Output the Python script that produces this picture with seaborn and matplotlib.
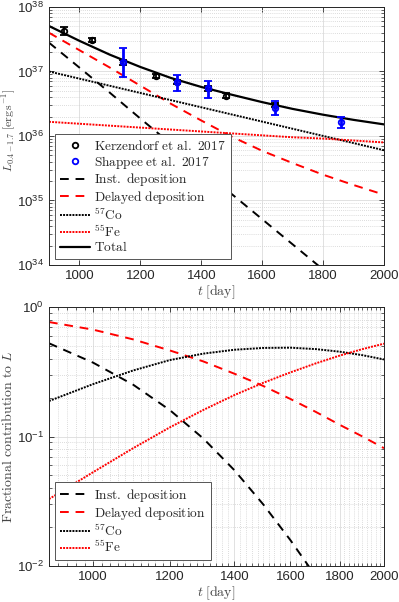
import numpy as np
import pandas as pd
import seaborn as sns
import matplotlib
matplotlib.use("Agg")
import matplotlib.pyplot as plt
from matplotlib.lines import Line2D
from matplotlib.ticker import FixedLocator, NullFormatter, LogLocator, FixedFormatter

# ---------------- data ----------------
days = [900, 1000, 1100, 1200, 1300, 1400, 1500, 1600, 1700, 1800, 1900, 2000]

# top panel: log10 luminance [erg/s]
logL_inst = [37.447, 37.06, 36.67, 36.27, 35.88, 35.49, 35.10, 34.71, 34.32, 33.93, 33.54, 33.15]
logL_delayed = [37.60, 37.33, 37.06, 36.78, 36.50, 36.24, 35.99, 35.77, 35.58, 35.40, 35.24, 35.09]
logL_co57 = [37.00, 36.889, 36.778, 36.667, 36.556, 36.445, 36.334, 36.223, 36.112, 36.001, 35.89, 35.779]
logL_fe55 = [36.22, 36.19, 36.16, 36.13, 36.10, 36.07, 36.04, 36.01, 35.98, 35.96, 35.93, 35.90]
logL_total = [37.705, 37.475, 37.26, 37.07, 36.90, 36.76, 36.64, 36.525, 36.42, 36.33, 36.25, 36.18]

# observations
kerz_t = [948, 1040, 1143, 1250, 1321, 1423, 1481, 1642]
kerz_logL = [37.628, 37.488, 37.14, 36.93, 36.84, 36.74, 36.625, 36.48]
kerz_err = [0.06, 0.035, 0.035, 0.035, 0.035, 0.035, 0.035, 0.035]

shap_t = [1143, 1321, 1423, 1642, 1859]
shap_logL = [37.14, 36.83, 36.74, 36.44, 36.21]
shap_logL_hi = [37.37, 36.946, 36.86, 36.547, 36.29]
shap_logL_lo = [36.92, 36.70, 36.594, 36.326, 36.12]

# bottom panel: log10 fractional contribution
logF_inst = [-0.28, -0.43, -0.60, -0.795, -1.015, -1.26, -1.525, -1.80, -2.08, -2.36, -2.64, -2.92]
logF_delayed = [-0.116, -0.175, -0.25, -0.335, -0.42, -0.515, -0.61, -0.71, -0.81, -0.91, -1.00, -1.09]
logF_co57 = [-0.726, -0.595, -0.49, -0.41, -0.36, -0.33, -0.316, -0.314, -0.325, -0.345, -0.372, -0.405]
logF_fe55 = [-1.483, -1.275, -1.09, -0.93, -0.795, -0.68, -0.585, -0.505, -0.435, -0.375, -0.325, -0.283]

xticks = [1000, 1200, 1400, 1600, 1800, 2000]

# ---------------- style ----------------
sns.set_theme(style="ticks")
plt.rcParams["font.family"] = ["Liberation Sans", "DejaVu Sans"]
plt.rcParams["mathtext.fontset"] = "cm"
plt.rcParams["axes.edgecolor"] = "#262626"
plt.rcParams["xtick.color"] = "#262626"
plt.rcParams["ytick.color"] = "#262626"

fig = plt.figure(figsize=(3.99, 6.02), dpi=100)
ax1 = fig.add_axes([0.1228, 0.5598, 0.8396, 0.4286])
ax2 = fig.add_axes([0.1228, 0.0598, 0.8396, 0.4302])

LW = 1.4
styles = {
    "inst": dict(color="black", linestyle=(0, (4.5, 3.5))),
    "delayed": dict(color="red", linestyle=(0, (4.5, 3.5))),
    "co": dict(color="black", linestyle=(0, (1, 0.6))),
    "fe": dict(color="red", linestyle=(0, (1, 0.6))),
    "total": dict(color="black", linestyle="-"),
}

top = pd.DataFrame({
    "t": days,
    "inst": 10.0 ** np.array(logL_inst),
    "delayed": 10.0 ** np.array(logL_delayed),
    "co": 10.0 ** np.array(logL_co57),
    "fe": 10.0 ** np.array(logL_fe55),
    "total": 10.0 ** np.array(logL_total),
})
bot = pd.DataFrame({
    "t": days,
    "inst": 10.0 ** np.array(logF_inst),
    "delayed": 10.0 ** np.array(logF_delayed),
    "co": 10.0 ** np.array(logF_co57),
    "fe": 10.0 ** np.array(logF_fe55),
})

# ---------------- top panel ----------------
for key in ["inst", "delayed", "co", "fe", "total"]:
    sns.lineplot(data=top, x="t", y=key, ax=ax1, lw=LW if key != "total" else 1.6,
                 **styles[key])

kL = 10.0 ** np.array(kerz_logL)
kerr_lo = kL - 10.0 ** (np.array(kerz_logL) - np.array(kerz_err))
kerr_hi = 10.0 ** (np.array(kerz_logL) + np.array(kerz_err)) - kL
ax1.errorbar(kerz_t, kL, yerr=[kerr_lo, kerr_hi], fmt="o", mfc="none", mec="black",
             ecolor="black", ms=4, mew=1.3, elinewidth=1.3, capsize=3, capthick=1.5, zorder=5)
sL = 10.0 ** np.array(shap_logL)
ax1.errorbar(shap_t, sL, yerr=[sL - 10.0 ** np.array(shap_logL_lo), 10.0 ** np.array(shap_logL_hi) - sL],
             fmt="o", mfc="none", mec="blue", ecolor="blue", ms=4, mew=1.3,
             elinewidth=2.0, capsize=3, capthick=1.8, zorder=6)

ax1.set_yscale("log")
ax1.set_xlim(900, 2000)
ax1.set_ylim(1e34, 1e38)
ax1.set_xticks(xticks)
ax1.xaxis.set_minor_locator(FixedLocator([]))
ax1.yaxis.set_major_locator(LogLocator(base=10, numticks=10))
ax1.yaxis.set_minor_locator(LogLocator(base=10, subs=np.arange(2, 10), numticks=20))
ax1.yaxis.set_minor_formatter(NullFormatter())
ax1.grid(True, which="major", color="#dcdcdc", lw=0.6, ls="-")
ax1.grid(True, which="minor", axis="y", color="#d0d0d0", lw=0.6, ls=(0, (1, 1.5)))
ax1.set_xlabel(r"$t\;[\mathrm{day}]$", fontsize=10, color="#444444", labelpad=1)
ax1.set_ylabel(r"$L_{0.4-1.7}\;[\mathrm{erg\,s^{-1}}]$", fontsize=8.5, color="#444444")
ax1.yaxis.set_label_coords(-0.092, 0.52)

handles1 = [
    Line2D([], [], marker="o", ls="none", mfc="none", mec="black", mew=1.3, ms=4),
    Line2D([], [], marker="o", ls="none", mfc="none", mec="blue", mew=1.3, ms=4),
    Line2D([], [], lw=LW, **styles["inst"]),
    Line2D([], [], lw=LW, **styles["delayed"]),
    Line2D([], [], lw=LW, **styles["co"]),
    Line2D([], [], lw=LW, **styles["fe"]),
    Line2D([], [], lw=1.6, **styles["total"]),
]
labels1 = [r"$\mathrm{Kerzendorf\ et\ al.\ 2017}$", r"$\mathrm{Shappee\ et\ al.\ 2017}$",
           r"$\mathrm{Inst.\ deposition}$", r"$\mathrm{Delayed\ deposition}$",
           r"$^{57}\mathrm{Co}$", r"$^{55}\mathrm{Fe}$", r"$\mathrm{Total}$"]

# ---------------- bottom panel ----------------
for key in ["inst", "delayed", "co", "fe"]:
    sns.lineplot(data=bot, x="t", y=key, ax=ax2, lw=LW, **styles[key])

ax2.set_xscale("log")
ax2.set_yscale("log")
ax2.set_xlim(900, 2000)
ax2.set_ylim(1e-2, 1)
ax2.xaxis.set_major_locator(FixedLocator(xticks))
ax2.xaxis.set_major_formatter(FixedFormatter([str(v) for v in xticks]))
ax2.xaxis.set_minor_locator(FixedLocator([v for v in range(900, 2001, 20) if v not in xticks]))
ax2.xaxis.set_minor_formatter(NullFormatter())
ax2.yaxis.set_major_locator(LogLocator(base=10, numticks=10))
ax2.yaxis.set_minor_locator(LogLocator(base=10, subs=np.arange(2, 10), numticks=20))
ax2.yaxis.set_minor_formatter(NullFormatter())
ax2.grid(True, which="major", color="#dcdcdc", lw=0.6, ls="-")
ax2.grid(True, which="minor", color="#d0d0d0", lw=0.6, ls=(0, (1, 1.5)))
ax2.set_xlabel(r"$t\;[\mathrm{day}]$", fontsize=10, color="#444444", labelpad=1)
ax2.set_ylabel(r"$\mathrm{Fractional\ contribution\ to}\ L$", fontsize=10, color="#444444")
ax2.yaxis.set_label_coords(-0.10, 0.5)

for ax in (ax1, ax2):
    ax.tick_params(which="both", direction="in", top=True, right=True, labelsize=9.5)
    ax.tick_params(which="major", length=3.5, width=0.6)
    ax.tick_params(which="minor", length=2, width=0.5)
    for s in ax.spines.values():
        s.set_linewidth(0.7)
    ax.set_axisbelow(True)

leg_kw = dict(loc="lower left", fontsize=9.6, handlelength=2.3, handletextpad=0.3,
              labelspacing=0.05, borderpad=0.35, borderaxespad=0.45,
              fancybox=False, framealpha=1, edgecolor="#555555")
leg1 = ax1.legend(handles1, labels1, **leg_kw)
leg1.get_frame().set_linewidth(0.7)
leg2 = ax2.legend(handles1[2:6], labels1[2:6], **leg_kw)
leg2.get_frame().set_linewidth(0.7)

fig.savefig("out.png", dpi=100)
